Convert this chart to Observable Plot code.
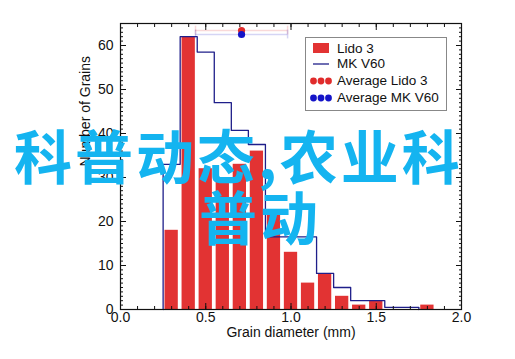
<!DOCTYPE html>
<html>
<head>
<meta charset="utf-8">
<script src="https://cdn.jsdelivr.net/npm/d3@7"></script>
<script src="https://cdn.jsdelivr.net/npm/@observablehq/plot@0.6"></script>
<style>
  html, body { margin: 0; padding: 0; background: #fff; }
  #wrap { position: relative; width: 515px; height: 359px; overflow: hidden; background: #fff; }
  #wrap svg text { font-family: "Liberation Sans", Arial, sans-serif !important; font-size: 14px !important; fill: #111; }
  #legend { position: absolute; left: 305px; top: 37px; width: 140px; height: 72px; border: 1px solid #888; background: #fff;
            font-family: "Liberation Sans", Arial, sans-serif; font-size: 13.5px; color: #111; }
  .row { position: absolute; left: 0; height: 16px; line-height: 16px; white-space: nowrap; }
  .lab { position: absolute; left: 31px; top: 0; }
  .wm { position: absolute; white-space: pre; font-family: "Noto Sans CJK SC", sans-serif; font-weight: 700;
        color: rgb(20,180,240); font-size: 58px; line-height: 60px; letter-spacing: 3px; }
</style>
</head>
<body>
<div id="wrap"></div>
<script>
// ---- data ----
const lidoCenters = [0.3, 0.4, 0.5, 0.6, 0.7, 0.8, 0.9, 1.0, 1.1, 1.2, 1.3, 1.4, 1.5, 1.6, 1.7, 1.8];
const lidoCounts  = [18,  62,  32,  29,  33,  36,  22,  13,  6,   8,   3,   1,   2,   0,   0,   1];
const mkCenters   = [0.3, 0.4, 0.5,  0.6, 0.7,  0.8,  0.9,  1.0,  1.1,  1.2, 1.3, 1.4, 1.5, 1.6, 1.7];
const mkCounts    = [33,  62,  58.5, 47,  40.7, 37.5, 16.5, 16.5, 16.5, 8.2, 5,   2,   2,   0.5, 0.5];
const binWidth = 0.1;
const avgNames  = ["Average Lido 3", "Average MK V60"];
const avgX      = [0.71, 0.71];
const avgY      = [63.4, 62.5];
const avgErr    = [0.27, 0.27];
const avgColors = ["#e02b2b", "#1414c8"];
const xTicks = [0, 0.5, 1, 1.5, 2];
const yTicks = [0, 10, 20, 30, 40, 50, 60];
const xLabel = "Grain diameter (mm)";
const yLabel = "Number of Grains";
const legendNames = ["Lido 3", "MK V60", "Average Lido 3", "Average MK V60"];
const watermark = ["科普动态,农业科", "普动"];

// ---- derived tables ----
const lido = lidoCenters.map((c, i) => ({c, v: lidoCounts[i]}));
const mkPts = [];
mkCenters.forEach((c, i) => {
  const x0 = c - binWidth / 2, x1 = c + binWidth / 2;
  if (i === 0) mkPts.push({x: x0, y: 0});
  mkPts.push({x: x0, y: mkCounts[i]}, {x: x1, y: mkCounts[i]});
  if (i === mkCenters.length - 1) mkPts.push({x: x1, y: 0});
});
const avg = avgNames.map((n, i) => ({n, x: avgX[i], y: avgY[i], e: avgErr[i], col: avgColors[i]}));
const xMinor = d3.range(0, 20.5, 1).map(d => d / 10);
const yMinor = d3.range(0, 66, 1);

const RED = "#e23333", NAVY = "#1f1f8a";
const noText = () => "";
const FS = 14;

const chart = Plot.plot({
  width: 515, height: 359,
  marginLeft: 120, marginRight: 54, marginTop: 23, marginBottom: 50,
  x: {domain: [0, 2]},
  y: {domain: [0, 65]},
  style: {fontFamily: "'Liberation Sans', Arial, sans-serif", fontSize: "14px", color: "#111", background: "transparent"},
  marks: [
    Plot.rectY(lido, {x1: d => d.c - 0.039, x2: d => d.c + 0.039, y: "v", fill: RED}),
    Plot.line(mkPts, {x: "x", y: "y", stroke: NAVY, strokeWidth: 1.3}),
    Plot.ruleY(avg, {y: "y", x1: d => d.x - d.e, x2: d => d.x + d.e, stroke: "col", strokeOpacity: 0.18, strokeWidth: 1.5}),
    Plot.ruleX(avg, {x: d => d.x - d.e, y1: d => d.y - 1, y2: d => d.y + 1, stroke: "col", strokeOpacity: 0.18, strokeWidth: 1.5}),
    Plot.ruleX(avg, {x: d => d.x + d.e, y1: d => d.y - 1, y2: d => d.y + 1, stroke: "col", strokeOpacity: 0.18, strokeWidth: 1.5}),
    Plot.dot(avg, {x: "x", y: "y", fill: "col", r: 3.6}),
    Plot.axisX({anchor: "bottom", ticks: xTicks, tickFormat: d3.format(".1f"), tickSize: -6, tickPadding: 9, label: null, fontSize: FS}),
    Plot.axisX({anchor: "bottom", ticks: xMinor, tickFormat: noText, tickSize: -3, tickPadding: 9, label: null}),
    Plot.axisX({anchor: "top", ticks: xTicks, tickFormat: noText, tickSize: -6, label: null}),
    Plot.axisX({anchor: "top", ticks: xMinor, tickFormat: noText, tickSize: -3, label: null}),
    Plot.axisY({anchor: "left", ticks: yTicks, tickSize: -6, tickPadding: 13, label: null, fontSize: FS}),
    Plot.axisY({anchor: "left", ticks: yMinor, tickFormat: noText, tickSize: -3, label: null}),
    Plot.axisY({anchor: "right", ticks: yTicks, tickFormat: noText, tickSize: -6, label: null}),
    Plot.axisY({anchor: "right", ticks: yMinor, tickFormat: noText, tickSize: -3, label: null}),
    Plot.frame({stroke: "#111", strokeWidth: 1.2}),
    Plot.text([xLabel], {text: d => d, frameAnchor: "bottom", dy: 27, fontSize: FS}),
    Plot.text([yLabel], {text: d => d, frameAnchor: "left", dx: -35, rotate: -90, fontSize: FS})
  ]
});
const wrap = document.getElementById("wrap");
wrap.appendChild(chart);

// legend
const lg = document.createElement("div");
lg.id = "legend";
const rowsTop = [3, 18, 35, 52];
legendNames.forEach((name, i) => {
  const r = document.createElement("div");
  r.className = "row";
  r.style.top = rowsTop[i] + "px";
  let sw = "";
  if (i === 0) sw = `<svg width="30" height="16" style="position:absolute;left:0;top:0"><rect x="7" y="2" width="16" height="10" fill="${RED}"/></svg>`;
  else if (i === 1) sw = `<svg width="30" height="16" style="position:absolute;left:0;top:0"><line x1="7" x2="23" y1="8" y2="8" stroke="${NAVY}" stroke-width="1.3"/></svg>`;
  else {
    const c = avgColors[i - 2];
    sw = `<svg width="30" height="16" style="position:absolute;left:0;top:0">${[7.5, 15, 22.5].map(cx => `<circle cx="${cx}" cy="8" r="3.4" fill="${c}"/>`).join("")}</svg>`;
  }
  r.innerHTML = sw + `<span class="lab">${name}</span>`;
  lg.appendChild(r);
});
wrap.appendChild(lg);

// watermark overlay text
const w1 = document.createElement("div");
w1.className = "wm"; w1.style.left = "14px"; w1.style.top = "124px"; w1.textContent = watermark[0];
const w2 = document.createElement("div");
w2.className = "wm"; w2.style.left = "199px"; w2.style.top = "185px"; w2.textContent = watermark[1];
wrap.appendChild(w1); wrap.appendChild(w2);
</script>
</body>
</html>
